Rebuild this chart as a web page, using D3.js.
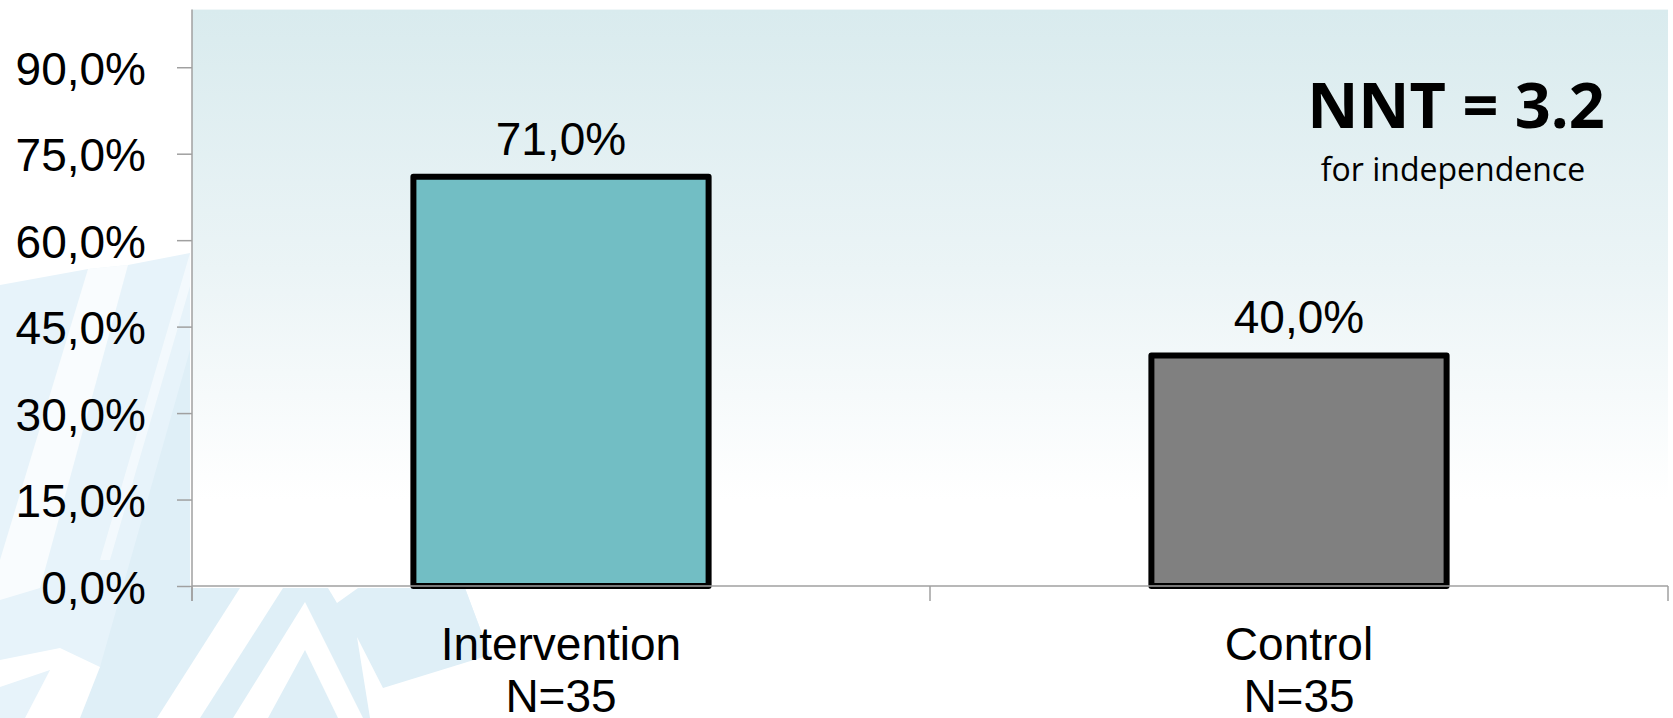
<!DOCTYPE html>
<html>
<head>
<meta charset="utf-8">
<script src="https://cdn.jsdelivr.net/npm/d3@7"></script>
<style>
  html, body { margin: 0; padding: 0; background: #ffffff; }
  svg { display: block; }
</style>
</head>
<body>
<svg id="chart" width="1673" height="718"></svg>
<script>
// ---- data ----
const categories = ["Intervention", "Control"];
const groupSizes = ["N=35", "N=35"];
const values = [71.0, 40.0];
const barColors = ["#72bec4", "#808080"];
const yTicks = [0, 15, 30, 45, 60, 75, 90];
const yDomain = [0, 100];
const nntTitle = "NNT = 3.2";
const nntSubtitle = "for independence";

// ---- layout ----
const W = 1673, H = 718;
const plot = { left: 192, right: 1668, top: 9.6, bottom: 586 };
const svg = d3.select("#chart");

const fmt = v => d3.format(".1f")(v).replace(".", ",") + "%";

const x = d3.scaleBand().domain(categories)
  .range([plot.left, plot.right]).paddingInner(0.6).paddingOuter(0.3);
const y = d3.scaleLinear().domain(yDomain).range([plot.bottom, plot.top]);

// ---- decorative background shapes ----
const deco = svg.append("g");
const shapes = [
  { c: "#e7f3fa", p: [[0,285],[88,269],[128,265],[190,253],[190,588],[465,588],[490,655],[385,690],[395,718],[0,718]] },
  { c: "#dfeff7", p: [[190,350],[190,588],[465,588],[490,655],[385,690],[395,718],[62,718],[100,667]] },
  { c: "#ffffff", o: 0.75, p: [[88,269],[128,265],[40,588],[0,600],[0,560]] },
  { c: "#ffffff", p: [[0,660],[60,648],[100,667],[80,718],[25,718],[50,670],[0,687]] },
  { c: "#ffffff", p: [[240,588],[283,588],[200,718],[157,718]] },
  { c: "#ffffff", p: [[233,718],[305,602],[305,650],[268,718]] },
  { c: "#ffffff", p: [[305,602],[363,718],[338,718],[305,650]] },
  { c: "#ffffff", p: [[328,588],[337,603],[358,588]] },
  { c: "#ffffff", p: [[357,637],[383,688],[490,655],[500,680],[395,718],[370,718]] },
  { c: "#ffffff", o: 0.5, p: [[190,253],[200,252],[110,560],[100,560]] }
];
shapes.forEach(s => {
  deco.append("polygon")
    .attr("points", s.p.map(d => d.join(",")).join(" "))
    .attr("fill", s.c).attr("fill-opacity", s.o == null ? 1 : s.o);
});

// ---- plot background gradient ----
const defs = svg.append("defs");
const grad = defs.append("linearGradient").attr("id", "bg")
  .attr("x1", 0).attr("y1", 0).attr("x2", 0).attr("y2", 1);
grad.append("stop").attr("offset", "0%").attr("stop-color", "#d9ebee");
grad.append("stop").attr("offset", "45%").attr("stop-color", "#ebf4f6");
grad.append("stop").attr("offset", "85%").attr("stop-color", "#ffffff");
grad.append("stop").attr("offset", "100%").attr("stop-color", "#ffffff");

svg.append("rect")
  .attr("x", plot.left).attr("y", plot.top)
  .attr("width", plot.right - plot.left).attr("height", plot.bottom - plot.top)
  .attr("fill", "url(#bg)");

// ---- bars ----
svg.append("g").selectAll("rect").data(values).join("rect")
  .attr("x", (d, i) => x(categories[i]))
  .attr("y", d => y(d))
  .attr("width", x.bandwidth())
  .attr("height", d => y(0) - y(d))
  .attr("fill", (d, i) => barColors[i])
  .attr("stroke", "#000").attr("stroke-width", 6)
  .attr("stroke-linejoin", "round");

// ---- axes ----
const axisColor = "#a0a0a0";
const yAxis = svg.append("g")
  .attr("transform", `translate(${plot.left},0)`)
  .call(d3.axisLeft(y).tickValues(yTicks).tickSize(15).tickFormat(fmt));
yAxis.select(".domain").remove();
yAxis.selectAll(".tick line").attr("stroke", axisColor).attr("stroke-width", 1.5);
yAxis.selectAll(".tick text")
  .attr("x", -46).attr("dy", "0.37em")
  .style("font-family", "'Liberation Sans', Arial, sans-serif")
  .style("font-size", "46px").attr("fill", "#000");
svg.append("line")
  .attr("x1", plot.left).attr("x2", plot.left)
  .attr("y1", plot.top).attr("y2", plot.bottom + 15)
  .attr("stroke", axisColor).attr("stroke-width", 1.5);

// x axis line and ticks at category boundaries
svg.append("line")
  .attr("x1", plot.left).attr("x2", plot.right)
  .attr("y1", plot.bottom).attr("y2", plot.bottom)
  .attr("stroke", axisColor).attr("stroke-width", 1.5);
const boundaries = [plot.left, ...categories.slice(1).map(c => x(c) - x.step() * x.paddingInner() / 2), plot.right];
svg.append("g").selectAll("line").data(boundaries).join("line")
  .attr("x1", d => d).attr("x2", d => d)
  .attr("y1", plot.bottom).attr("y2", plot.bottom + 15)
  .attr("stroke", axisColor).attr("stroke-width", 1.5);

// category labels
const catG = svg.append("g")
  .style("font-family", "'Liberation Sans', Arial, sans-serif")
  .style("font-size", "46px").attr("fill", "#000");
categories.forEach((c, i) => {
  const cx = x(c) + x.bandwidth() / 2;
  catG.append("text").attr("x", cx).attr("y", plot.bottom + 74)
    .attr("text-anchor", "middle").text(c);
  catG.append("text").attr("x", cx).attr("y", plot.bottom + 126)
    .attr("text-anchor", "middle").text(groupSizes[i]);
});

// data labels
svg.append("g").selectAll("text").data(values).join("text")
  .attr("x", (d, i) => x(categories[i]) + x.bandwidth() / 2)
  .attr("y", d => y(d) - 22)
  .attr("text-anchor", "middle")
  .style("font-family", "'Liberation Sans', Arial, sans-serif")
  .style("font-size", "46px").attr("fill", "#000")
  .text(d => fmt(d));

// ---- NNT annotation ----
svg.append("text")
  .attr("x", 1456).attr("y", 128).attr("text-anchor", "middle")
  .style("font-family", "'Open Sans', 'Noto Sans', sans-serif")
  .style("font-weight", "700").style("font-size", "63px")
  .attr("fill", "#000").text(nntTitle);
svg.append("text")
  .attr("x", 1453).attr("y", 181).attr("text-anchor", "middle")
  .style("font-family", "'Open Sans', 'Noto Sans', sans-serif")
  .style("font-size", "32px")
  .attr("fill", "#000").text(nntSubtitle);
</script>
</body>
</html>
